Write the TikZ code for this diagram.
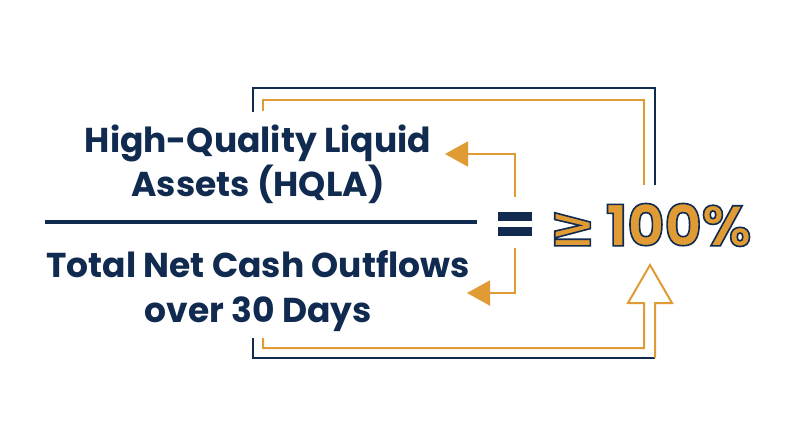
\documentclass[tikz,border=0pt]{standalone}
\usepackage{fontspec}
\setmainfont{Poppins}[BoldFont=* Bold]
\newfontfamily\symfont{DejaVu Sans}[BoldFont=* Bold]
\usetikzlibrary{arrows.meta}
\definecolor{navy}{HTML}{102A50}
\definecolor{gold}{HTML}{E09B34}
\newcommand{\outl}[1]{\special{pdf:literal direct 0.063 0.165 0.314 RG 1.6 w 2 Tr}#1\special{pdf:literal direct 0 Tr}}
\begin{document}
\begin{tikzpicture}[x=1pt,y=-1pt,
  navyline/.style={draw=navy,line width=2pt},
  goldline/.style={draw=gold,line width=2pt},
  lbl/.style={font=\fontsize{34.5}{38}\selectfont\bfseries,text=navy,align=center,inner sep=0pt,anchor=base},
  smallarr/.style={goldline,-{Triangle[length=23pt,width=25pt,fill=gold]}}
]
\useasboundingbox (0,0) rectangle (800,447);
\fill[white] (0,0) rectangle (800,447);
% texts
\node[lbl] (num1) at (258,152) {High-Quality Liquid};
\node[lbl] (num2) at (258,196) {Assets (HQLA)};
\node[lbl] (den1) at (258,277) {Total Net Cash Outflows};
\node[lbl] (den2) at (258,322) {over 30 Days};
% fraction bar
\coordinate (fl) at (45,222);
\coordinate (fr) at (477,222);
\draw[navy,line width=4pt] (fl) -- (fr);
% equals
\fill[navy] (498,212) rectangle (532,221);
\fill[navy] (498,227) rectangle (532,236);
% result
\node[inner sep=0pt,text=gold,anchor=center] (res) at (650,225)
  {\outl{\fontsize{57}{62}\selectfont\bfseries{\symfont≥}\,100\%}};
% small arrows
\coordinate (ua) at (515,197);
\coordinate (ub) at (515,154);
\coordinate (ut) at (445,154);
\draw[smallarr] (ua) -- (ub) -- (ut);
\coordinate (la) at (515,248);
\coordinate (lb) at (515,293);
\coordinate (lt) at (467,293);
\draw[smallarr] (la) -- (lb) -- (lt);
% outer navy frame
\coordinate (n1) at (253,112);
\coordinate (n2) at (253,88);
\coordinate (n3) at (655,88);
\coordinate (n4) at (655,185);
\draw[navyline] (n1) -- (n2) -- (n3) -- (n4);
% inner gold frame
\coordinate (g1) at (263,111);
\coordinate (g2) at (263,100);
\coordinate (g3) at (644,100);
\coordinate (g4) at (644,185);
\draw[goldline] (g1) -- (g2) -- (g3) -- (g4);
% bottom
\coordinate (b1) at (253,338);
\coordinate (b2) at (253,358);
\coordinate (b3) at (655,358);
\draw[navyline] (b1) -- (b2) -- (b3);
% hollow arrow
\coordinate (h1) at (263,338);
\coordinate (h2) at (263,348);
\coordinate (h3) at (644,348);
\coordinate (h4) at (644,303);
\coordinate (h5) at (628,303);
\coordinate (h6) at (650,265);
\coordinate (h7) at (672,303);
\coordinate (h8) at (655,303);
\coordinate (h9) at (655,358);
\draw[goldline,line join=miter] (h1) -- (h2) -- (h3) -- (h4) -- (h5) -- (h6) -- (h7) -- (h8) -- (h9);
\end{tikzpicture}
\end{document}
